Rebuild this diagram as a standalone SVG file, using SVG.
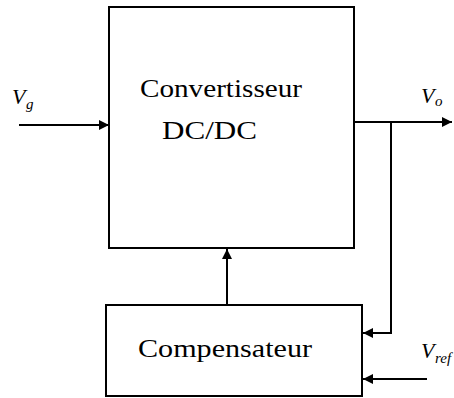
<svg xmlns="http://www.w3.org/2000/svg" width="454" height="398" viewBox="0 0 454 398">
<style>
.box{fill:#fff;stroke:#000;stroke-width:2}
.ln{fill:none;stroke:#000;stroke-width:2}
.t{font-family:"Liberation Serif",serif;font-size:25px;fill:#000}
.v{font-family:"Liberation Serif",serif;font-style:italic;font-size:22px;fill:#000}
.s{font-family:"Liberation Serif",serif;font-style:italic;font-size:15px;fill:#000}
</style>
<defs>
<marker id="ah" viewBox="0 0 10 10" refX="10" refY="5" markerWidth="10" markerHeight="10" markerUnits="userSpaceOnUse" orient="auto">
<path d="M0,0 L10,5 L0,10 z" fill="#000"/>
</marker>
</defs>
<rect width="454" height="398" fill="#fff"/>
<g id="connectors">
<line class="ln" x1="19" y1="125" x2="109" y2="125" marker-end="url(#ah)"/>
<line class="ln" x1="354" y1="122" x2="452" y2="122" marker-end="url(#ah)"/>
<polyline class="ln" points="391,122 391,333 363,333" marker-end="url(#ah)"/>
<line class="ln" x1="427" y1="379" x2="363" y2="379" marker-end="url(#ah)"/>
<line class="ln" x1="227" y1="305" x2="227" y2="249" marker-end="url(#ah)"/>
</g>
<g id="convertisseur">
<rect class="box" x="109" y="7" width="245" height="241"/>
<text class="t" x="140" y="97" textLength="162" lengthAdjust="spacingAndGlyphs">Convertisseur</text>
<text class="t" x="162" y="139" textLength="95" lengthAdjust="spacingAndGlyphs">DC/DC</text>
</g>
<g id="compensateur">
<rect class="box" x="106" y="305" width="256" height="91"/>
<text class="t" x="138" y="357" textLength="174" lengthAdjust="spacingAndGlyphs">Compensateur</text>
</g>
<g id="labels">
<text class="v" x="12" y="104">V</text>
<text class="s" x="26" y="109">g</text>
<text class="v" x="421" y="103">V</text>
<text class="s" x="435" y="106">o</text>
<text class="v" x="421" y="358">V</text>
<text class="s" x="435" y="363">ref</text>
</g>
</svg>
